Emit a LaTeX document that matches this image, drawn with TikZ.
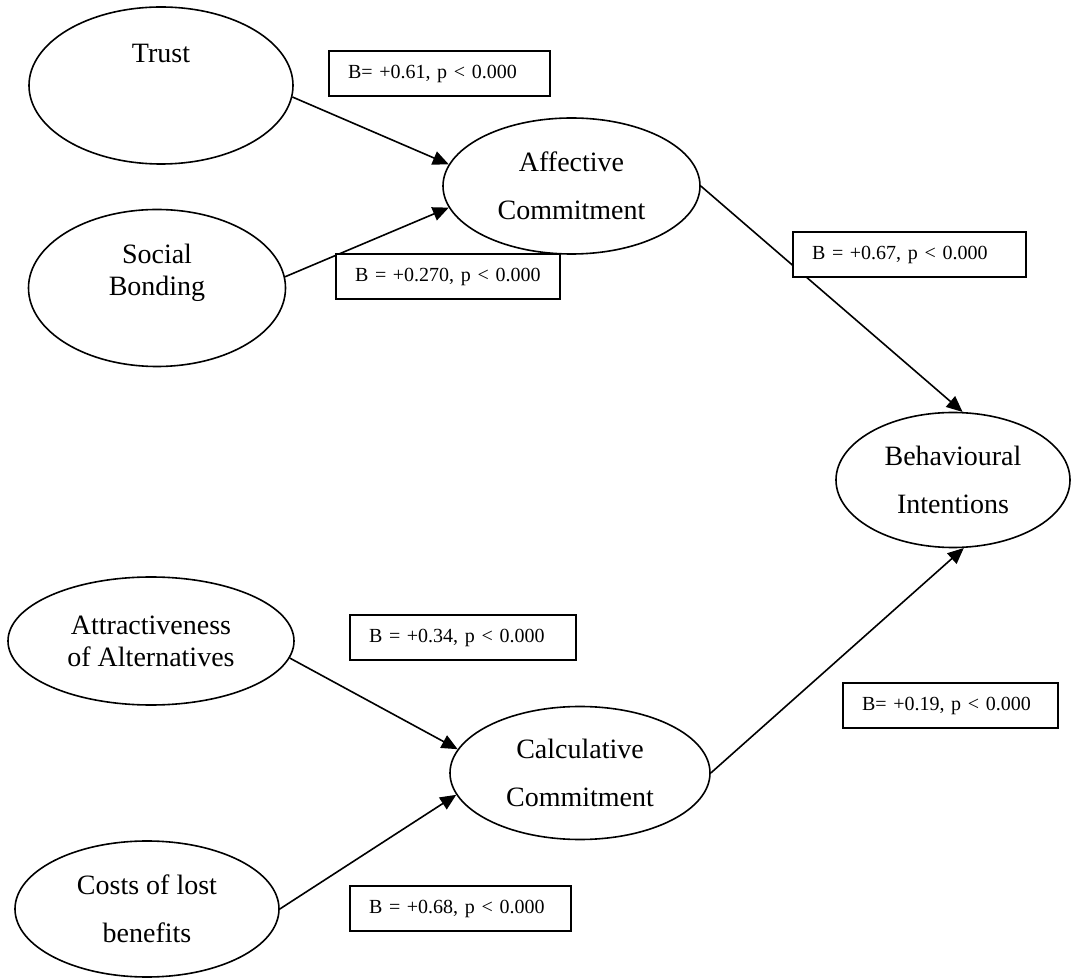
\documentclass[tikz,border=0pt]{standalone}
\usepackage{fontspec}
\setmainfont{Liberation Serif}
\usetikzlibrary{positioning,arrows.meta,shapes.geometric}
\tikzset{
  pathlink/.style={-{Triangle[length=8pt, width=7pt]}, line width=0.8pt},
  ctext/.style={font=\fontsize{14}{16}\selectfont, align=center},
  latent/.style={draw, ellipse, line width=0.8pt, inner sep=0pt, ctext},
  widelines/.style={font=\fontsize{14}{24}\selectfont},
  coefbox/.style={draw, fill=white, line width=1pt, inner xsep=9.5pt, inner ysep=0pt, minimum height=22.5pt, text width=#1, align=left, font=\fontsize{10}{12}\selectfont}
}
\begin{document}
\begin{tikzpicture}[x=0.5pt, y=-0.5pt]
      \useasboundingbox (0,0) rectangle (1072,978);
      \node[latent, minimum width=132pt, minimum height=78.5pt, label={[ctext, yshift=16pt]center:Trust}] (trust) at (161,85.5) {};
      \node[latent, minimum width=128.5pt, minimum height=78.5pt, label={[ctext, yshift=7.75pt]center:Social\\Bonding}] (social) at (157,288) {};
      \node[latent, widelines, minimum width=128.5pt, minimum height=68pt] (affc) at (571.5,186) {Affective\\Commitment};
      \node[latent, widelines, minimum width=117pt, minimum height=67.5pt] (behav) at (953,480) {Behavioural\\Intentions};
      \node[latent, minimum width=143pt, minimum height=64pt] (attr) at (151,641) {Attractiveness\\of Alternatives};
      \node[latent, widelines, minimum width=132pt, minimum height=68pt] (costs) at (147,909) {Costs of lost\\benefits};
      \node[latent, widelines, minimum width=130pt, minimum height=66.5pt] (calcc) at (580,773) {Calculative\\Commitment};
      \draw[pathlink] (trust.-5) -- (affc.170);
      \draw[pathlink] (social.5) -- (affc.190);
      \draw[pathlink] (affc.0) -- (behav.82);
      \draw[pathlink] (attr.-7) -- (calcc.169);
      \draw[pathlink] (costs.0) -- (calcc.190);
      \draw[pathlink] (calcc.0) -- (behav.-81);
      \node[coefbox=91.5pt] (c1) at (439.5,74) {B= +0.61, p < 0.000};
      \node[coefbox=93pt] (c2) at (448,276.5) {B = +0.270, p < 0.000};
      \node[coefbox=97.5pt] (c3) at (909.5,254.5) {B = +0.67, p < 0.000};
      \node[coefbox=94pt] (c4) at (463,638) {B = +0.34, p < 0.000};
      \node[coefbox=91.5pt] (c5) at (460.5,908.5) {B = +0.68, p < 0.000};
      \node[coefbox=88.5pt] (c6) at (950.5,705.5) {B= +0.19, p < 0.000};
    \end{tikzpicture}
\end{document}
